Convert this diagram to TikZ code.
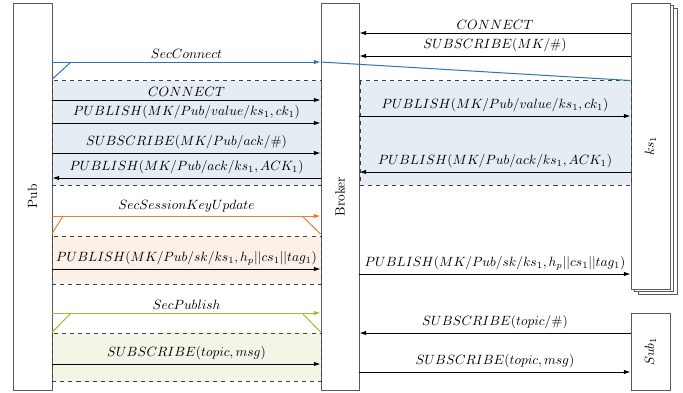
\documentclass[tikz,border=0pt]{standalone}
\usetikzlibrary{arrows.meta,fit}

\definecolor{secblue}{RGB}{46,117,182}
\definecolor{secorange}{RGB}{237,125,49}
\definecolor{secgreen}{RGB}{165,187,45}
\definecolor{fillblue}{RGB}{229,236,244}
\definecolor{fillorange}{RGB}{251,240,232}
\definecolor{fillgreen}{RGB}{244,245,230}
\definecolor{boxgray}{RGB}{90,90,90}

\begin{document}
\begin{tikzpicture}[x=0.745pt,y=-0.745pt,
  party/.style={draw=boxgray,line width=0.65pt,fill=white,inner sep=0pt},
  msg/.style={-{Latex[length=5pt,width=3.4pt]},line width=0.75pt},
  lbl/.style={midway,above,inner sep=2.5pt},
  phase/.style={draw=black!75,dashed,line width=0.6pt},
  sec/.style={line width=0.75pt},
  secarrow/.style={sec,-{Latex[length=5pt,width=3.4pt]}}
]
\useasboundingbox[fill=white] (0,0) rectangle (683,392);

% shaded phases
\fill[fillblue] (52,80.5) rectangle (321,185);
\fill[fillblue] (360,80.5) rectangle (631,185);
\fill[fillorange] (52,236) rectangle (321,284);
\fill[fillgreen] (52,333) rectangle (321,381);

% participants
\node[party,fit={(13,3) (52,390)}] (pub) {};
\node[party,fit={(321,3) (359,390)}] (broker) {};
\draw[party] (638,8) rectangle (677,294);
\draw[party] (634.5,5.5) rectangle (673.5,291.5);
\node[party,fit={(631,3) (670,289)}] (ks) {};
\node[party,fit={(631,313) (670,390)}] (sub) {};
\node[rotate=90] at (pub) {Pub};
\node[rotate=90] at (broker) {Broker};
\node[rotate=90] at (ks) {$ks_1$};
\node[rotate=90] at (sub) {$Sub_1$};

% phase outlines
\draw[phase] (52,80.5) rectangle (321,185);
\draw[phase] (360,80.5) rectangle (631,185);
\draw[phase] (52,236) rectangle (321,284);
\draw[phase] (52,333) rectangle (321,381);

% key server subscription
\draw[msg] (ks.west |- 0,33) -- (broker.east |- 0,33) node[lbl] {$CONNECT$};
\draw[msg] (ks.west |- 0,56) -- (broker.east |- 0,56) node[lbl] {$SUBSCRIBE(MK/\#)$};

% SecConnect
\draw[secarrow,secblue] (pub.east |- 0,62) -- (broker.west |- 0,62) node[lbl,text=black] {$SecConnect$};
\draw[sec,secblue] (pub.east |- 0,79) -- (71,62);
\draw[sec,secblue] (broker.west |- 0,62) -- (ks.west |- 0,80.5);

\draw[msg] (pub.east |- 0,100) -- (broker.west |- 0,100) node[lbl] {$CONNECT$};
\draw[msg] (pub.east |- 0,123) -- (broker.west |- 0,123) node[lbl] {$PUBLISH(MK/Pub/value/ks_1,ck_1)$};
\draw[msg] (pub.east |- 0,153) -- (broker.west |- 0,153) node[lbl] {$SUBSCRIBE(MK/Pub/ack/\#)$};
\draw[msg] (broker.west |- 0,178) -- (pub.east |- 0,178) node[lbl] {$PUBLISH(MK/Pub/ack/ks_1,ACK_1)$};
\draw[msg] (broker.east |- 0,116) -- (ks.west |- 0,116) node[lbl] {$PUBLISH(MK/Pub/value/ks_1,ck_1)$};
\draw[msg] (ks.west |- 0,172) -- (broker.east |- 0,172) node[lbl] {$PUBLISH(MK/Pub/ack/ks_1,ACK_1)$};

% SecSessionKeyUpdate
\draw[secarrow,secorange] (pub.east |- 0,216) -- (broker.west |- 0,216) node[lbl,text=black] {$SecSessionKeyUpdate$};
\draw[sec,secorange] (pub.east |- 0,233) -- (63,216);
\draw[sec,secorange] (302,216) -- (broker.west |- 0,234);
\draw[msg] (pub.east |- 0,269) -- (broker.west |- 0,269) node[lbl] {$PUBLISH(MK/Pub/sk/ks_1,h_p||cs_1||tag_1)$};
\draw[msg] (broker.east |- 0,274) -- (ks.west |- 0,274) node[lbl] {$PUBLISH(MK/Pub/sk/ks_1,h_p||cs_1||tag_1)$};

% SecPublish
\draw[secarrow,secgreen] (pub.east |- 0,313) -- (broker.west |- 0,313) node[lbl,text=black] {$SecPublish$};
\draw[sec,secgreen] (pub.east |- 0,332) -- (71,313);
\draw[sec,secgreen] (302,313) -- (broker.west |- 0,332);
\draw[msg] (pub.east |- 0,364) -- (broker.west |- 0,364) node[lbl] {$SUBSCRIBE(topic,msg)$};

% subscriber
\draw[msg] (sub.west |- 0,333) -- (broker.east |- 0,333) node[lbl] {$SUBSCRIBE(topic/\#)$};
\draw[msg] (broker.east |- 0,372) -- (sub.west |- 0,372) node[lbl] {$SUBSCRIBE(topic,msg)$};
\end{tikzpicture}
\end{document}
